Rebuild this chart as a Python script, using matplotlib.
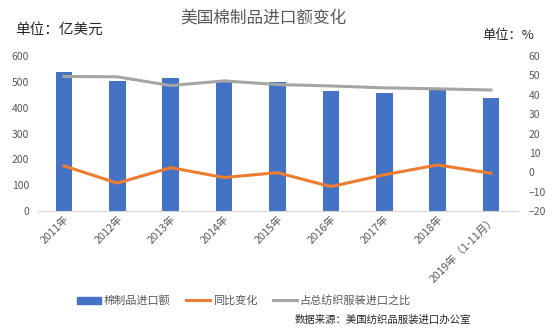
import matplotlib
matplotlib.use("Agg")
import matplotlib.pyplot as plt
from matplotlib.lines import Line2D
from matplotlib.patches import Patch

plt.rcParams['font.family'] = ['Noto Sans CJK SC', 'DejaVu Sans']

categories = ['2011年', '2012年', '2013年', '2014年', '2015年', '2016年', '2017年', '2018年', '2019年（1-11月）']
imports = [537, 504, 516, 498, 499, 466, 459, 467, 438]
yoy = [3.3, -5.6, 2.4, -2.7, -0.2, -7.4, -1.3, 3.8, -0.5]
share = [49.5, 49.3, 44.8, 47.2, 45.3, 44.6, 43.6, 43.1, 42.5]

blue = '#4472C4'
orange = '#ED7D31'
gray = '#A5A5A5'
txt = '#595959'

fig = plt.figure(figsize=(5.54, 3.36), dpi=100)
ax = fig.add_axes([0.0673, 0.372, 0.8672, 0.461])
x = list(range(len(categories)))
ax.bar(x, imports, width=0.31, color=blue, zorder=2)
ax.set_xlim(-0.5, len(categories) - 0.5)
ax.set_ylim(0, 600)
ax.set_yticks(range(0, 601, 100))
ax.tick_params(axis='y', length=0, labelsize=7.5, labelcolor=txt, pad=6)
ax.tick_params(axis='x', length=0, labelsize=7.8, labelcolor=txt, pad=2)
ax.set_xticks(x)
ax.set_xticklabels(categories, rotation=45, ha='right', rotation_mode='anchor')
for s in ['top', 'right', 'left']:
    ax.spines[s].set_visible(False)
ax.spines['bottom'].set_color('#D9D9D9')

ax2 = ax.twinx()
ax2.plot(x, yoy, color=orange, lw=2.2, zorder=3)
ax2.plot(x, share, color=gray, lw=2.2, zorder=3)
ax2.set_ylim(-20, 60)
ax2.set_yticks(range(-20, 61, 10))
ax2.tick_params(axis='y', length=0, labelsize=7.5, labelcolor=txt, pad=8)
for s in ['top', 'right', 'left', 'bottom']:
    ax2.spines[s].set_visible(False)

fig.text(0.475, 0.945, '美国棉制品进口额变化', ha='center', va='center', fontsize=12, color=txt)
fig.text(0.027, 0.912, '单位：亿美元', ha='left', va='center', fontsize=10.5, color='#262626')
fig.text(0.965, 0.895, '单位：%', ha='right', va='center', fontsize=9.5, color='#262626')

handles = [Patch(color=blue), Line2D([], [], color=orange, lw=2.2), Line2D([], [], color=gray, lw=2.2)]
labels = ['棉制品进口额', '同比变化', '占总纺织服装进口之比']
fig.legend(handles, labels, loc='center', bbox_to_anchor=(0.44, 0.105), ncol=3, frameon=False,
           fontsize=8, labelcolor=txt, handlelength=2.2, handletextpad=0.2, columnspacing=1.4,
           handleheight=0.6)
fig.text(0.85, 0.05, '数据来源：美国纺织品服装进口办公室', ha='right', va='center', fontsize=7.5, color='#262626')

fig.savefig('out.png', dpi=100)
